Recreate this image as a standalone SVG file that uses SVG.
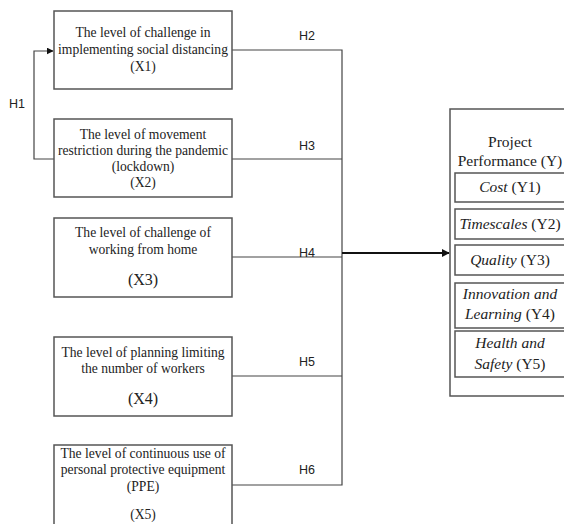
<svg xmlns="http://www.w3.org/2000/svg" width="564" height="524" viewBox="0 0 564 524">
<style>
.box{fill:#fff;stroke:#555;stroke-width:1.5}
.ln{fill:none;stroke:#444;stroke-width:1.2}
.t{font-family:"Liberation Serif","Times New Roman",serif;font-size:13.6px;fill:#222;text-anchor:middle}
.tb{font-family:"Liberation Serif","Times New Roman",serif;font-size:16px;fill:#222;text-anchor:middle}
.ty{font-family:"Liberation Serif","Times New Roman",serif;font-size:15.5px;fill:#222;text-anchor:middle}
.i{font-style:italic}
.h{font-family:"Liberation Sans",Arial,sans-serif;font-size:12.5px;fill:#222;text-anchor:middle}
</style>
<defs>
<marker id="ah" viewBox="0 0 10 10" refX="9" refY="5" markerWidth="8" markerHeight="8" markerUnits="userSpaceOnUse" orient="auto"><path d="M0,0L10,5L0,10z" fill="#111"/></marker>
<marker id="ah2" viewBox="0 0 10 10" refX="9" refY="5" markerWidth="7" markerHeight="7" markerUnits="userSpaceOnUse" orient="auto"><path d="M0,0L10,5L0,10z" fill="#111"/></marker>
</defs>
<g id="connectors">
<path class="ln" d="M232,50H342V485H232"/>
<path class="ln" d="M232,159H342"/>
<path class="ln" d="M232,257H342"/>
<path class="ln" d="M232,376H342"/>
<path class="ln" d="M54,159H34V51H53" marker-end="url(#ah2)"/>
<path d="M342,253H449" fill="none" stroke="#111" stroke-width="2" marker-end="url(#ah)"/>
<text class="h" x="307" y="40">H2</text>
<text class="h" x="307" y="150">H3</text>
<text class="h" x="307" y="257">H4</text>
<text class="h" x="307" y="366">H5</text>
<text class="h" x="307" y="474">H6</text>
<text class="h" x="17" y="108">H1</text>
</g>
<g id="x1">
<rect class="box" x="54" y="11" width="178" height="78"/>
<text class="t" x="143" y="37">The level of challenge in</text>
<text class="t" x="143" y="54">implementing social distancing</text>
<text class="t" x="143" y="71">(X1)</text>
</g>
<g id="x2">
<rect class="box" x="54" y="119" width="178" height="78"/>
<text class="t" x="143" y="139">The level of movement</text>
<text class="t" x="143" y="155">restriction during the pandemic</text>
<text class="t" x="143" y="171">(lockdown)</text>
<text class="t" x="143" y="187">(X2)</text>
</g>
<g id="x3">
<rect class="box" x="54" y="218" width="178" height="79"/>
<text class="t" x="143" y="237">The level of challenge of</text>
<text class="t" x="143" y="254">working from home</text>
<text class="tb" x="143" y="285">(X3)</text>
</g>
<g id="x4">
<rect class="box" x="54" y="337" width="178" height="79"/>
<text class="t" x="143" y="357">The level of planning limiting</text>
<text class="t" x="143" y="373">the number of workers</text>
<text class="tb" x="143" y="404">(X4)</text>
</g>
<g id="x5">
<rect class="box" x="54" y="445" width="178" height="90"/>
<text class="t" x="143" y="458">The level of continuous use of</text>
<text class="t" x="143" y="474">personal protective equipment</text>
<text class="t" x="143" y="491">(PPE)</text>
<text class="t" x="143" y="519">(X5)</text>
</g>
<g id="y">
<rect class="box" x="450" y="109" width="120" height="287"/>
<text class="ty" x="510" y="147">Project</text>
<text class="ty" x="510" y="166">Performance (Y)</text>
</g>
<g id="y1">
<rect class="box" x="455" y="173" width="112" height="29"/>
<text class="ty" x="510" y="192"><tspan class="i">Cost</tspan> (Y1)</text>
</g>
<g id="y2">
<rect class="box" x="455" y="209" width="112" height="30"/>
<text class="ty" x="510" y="229"><tspan class="i">Timescales</tspan> (Y2)</text>
</g>
<g id="y3">
<rect class="box" x="455" y="245" width="112" height="30"/>
<text class="ty" x="510" y="265"><tspan class="i">Quality</tspan> (Y3)</text>
</g>
<g id="y4">
<rect class="box" x="455" y="283" width="112" height="45"/>
<text class="ty" x="510" y="299"><tspan class="i">Innovation and</tspan></text>
<text class="ty" x="510" y="319"><tspan class="i">Learning</tspan> (Y4)</text>
</g>
<g id="y5">
<rect class="box" x="455" y="331" width="112" height="46"/>
<text class="ty" x="510" y="348"><tspan class="i">Health and</tspan></text>
<text class="ty" x="510" y="369"><tspan class="i">Safety</tspan> (Y5)</text>
</g>
</svg>
